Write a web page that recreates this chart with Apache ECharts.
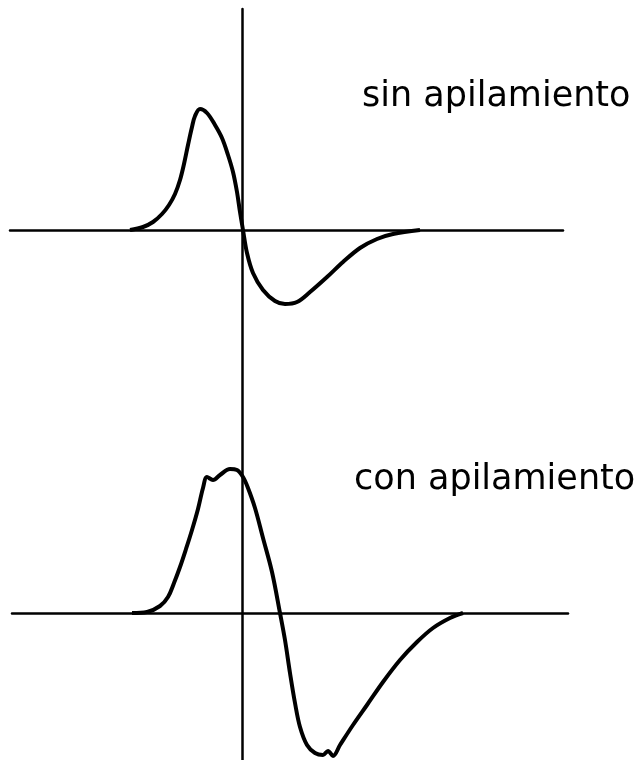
<!DOCTYPE html>
<html>
<head>
<meta charset="utf-8">
<script src="https://cdn.jsdelivr.net/npm/echarts@6/dist/echarts.min.js"></script>
<style>
    html, body { margin: 0; padding: 0; background: #fff; }
    #someChart { width: 638px; height: 760px; }
</style>
</head>
<body>
<div id="someChart"></div>
<script>
// pulso sin apilamiento (x = tiempo, y = amplitud)
var sinX = [-11.2, -9.9, -8.9, -8.0, -7.3, -6.7, -6.2, -5.8, -5.4, -5.0, -4.7, -4.2, -3.5, -2.7, -2.0, -1.4, -0.9, -0.5, -0.2, 0.1, 0.5, 1.1, 2.1, 3.3, 4.3, 5.5, 6.8, 8.5, 10.1, 11.8, 13.5, 15.1, 17.8];
var sinY = [0, 0.3, 0.8, 1.6, 2.5, 3.6, 5.0, 6.6, 8.5, 10.3, 11.4, 12.1, 11.7, 10.5, 9.2, 7.5, 5.8, 3.8, 1.8, 0, -2.3, -4.3, -6.0, -7.1, -7.4, -7.2, -6.2, -4.7, -3.2, -1.8, -0.9, -0.4, 0];

// pulso con apilamiento
var conX = [-11.0, -9.5, -8.2, -7.4, -6.8, -6.2, -5.6, -5.0, -4.4, -3.9, -3.5, -2.9, -2.2, -1.2, -0.5, 0.1, 0.6, 1.3, 2.1, 3.0, 3.8, 4.3, 4.8, 5.3, 5.8, 6.5, 7.3, 8.1, 8.6, 9.1, 9.8, 11.1, 12.5, 14.1, 15.8, 17.5, 19.1, 20.8, 22.1];
var conY = [0, 0.1, 0.7, 1.6, 3.0, 4.6, 6.4, 8.3, 10.4, 12.5, 13.6, 13.3, 13.8, 14.4, 14.3, 13.6, 12.5, 10.5, 7.5, 4.1, 0, -2.7, -6.0, -9.0, -11.4, -13.2, -14.0, -14.2, -13.8, -14.3, -13.2, -11.2, -9.2, -6.9, -4.7, -2.9, -1.5, -0.5, 0];

// textos
var etiquetas = ['sin apilamiento', 'con apilamiento'];

function pares(xs, ys) {
    var d = [];
    for (var i = 0; i < xs.length; i++) {
        d.push([xs[i], ys[i]]);
    }
    return d;
}

var myChart = echarts.init(document.getElementById('someChart'));

var negro = { color: '#000', width: 2.5 };
function ejeOculto(extra, mostrarLinea) {
    return Object.assign({
        type: 'value',
        axisLine: { show: mostrarLinea, onZero: true, lineStyle: negro },
        axisTick: { show: false },
        axisLabel: { show: false },
        splitLine: { show: false }
    }, extra);
}

var fuente = { fontFamily: 'DejaVu Sans', fontSize: 35, fontWeight: 'normal', color: '#000' };

var option = {
    backgroundColor: '#fff',
    animation: false,
    title: [
        { text: etiquetas[0], left: 357, top: 74, textStyle: fuente },
        { text: etiquetas[1], left: 349, top: 457, textStyle: fuente }
    ],
    // la rejilla de arriba ocupa todo el alto, asi el eje vertical sale de una pieza
    grid: [
        { left: 10, right: 75, top: 9, height: 751 },
        { left: 12, right: 70, top: 416, height: 344 }
    ],
    xAxis: [
        ejeOculto({ gridIndex: 0, min: -23.2, max: 32.1 }, true),
        ejeOculto({ gridIndex: 1, min: -23.0, max: 32.6 }, true)
    ],
    yAxis: [
        ejeOculto({ gridIndex: 0, min: -53.0, max: 22.1 }, true),
        ejeOculto({ gridIndex: 1, min: -14.7, max: 19.7 }, false)
    ],
    series: [
        {
            name: etiquetas[0],
            type: 'line',
            xAxisIndex: 0,
            yAxisIndex: 0,
            smooth: 0.35,
            showSymbol: false,
            clip: false,
            lineStyle: { color: '#000', width: 4 },
            data: pares(sinX, sinY)
        },
        {
            name: etiquetas[1],
            type: 'line',
            xAxisIndex: 1,
            yAxisIndex: 1,
            smooth: 0.35,
            showSymbol: false,
            clip: false,
            lineStyle: { color: '#000', width: 4 },
            data: pares(conX, conY)
        }
    ]
};

myChart.setOption(option);
</script>
</body>
</html>
